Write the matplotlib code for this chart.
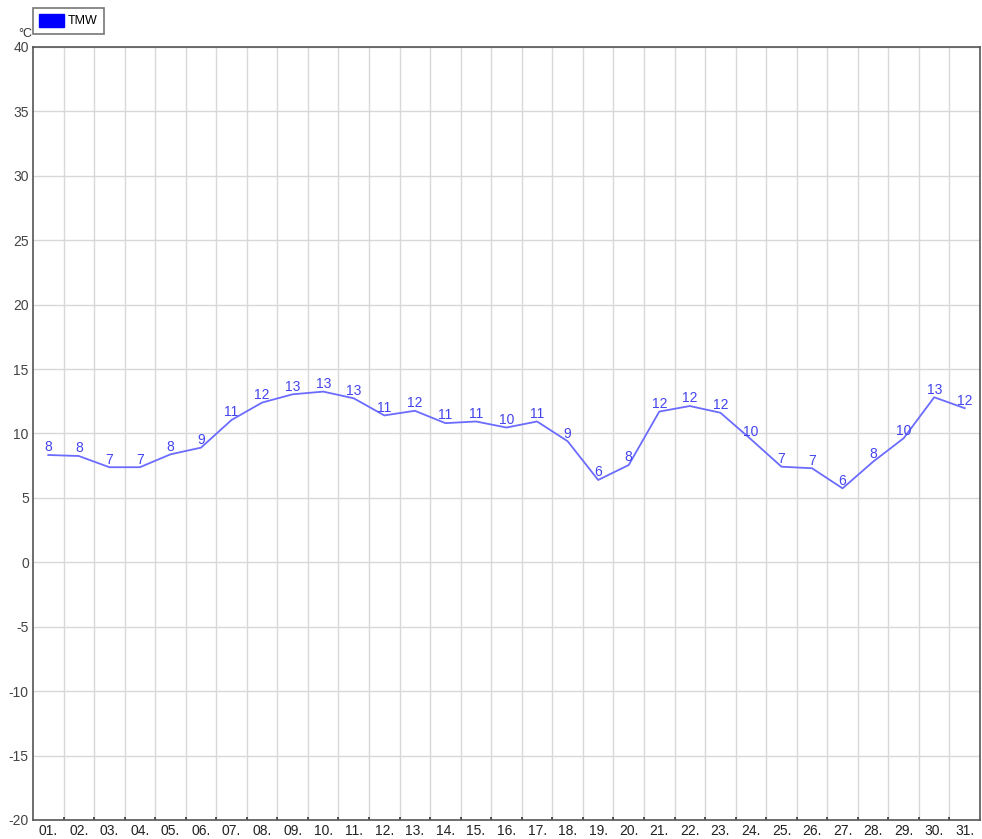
import numpy as np
import matplotlib
matplotlib.use("Agg")
import matplotlib.pyplot as plt
from matplotlib.patches import Patch

plt.rcParams["font.family"] = ["Liberation Sans", "DejaVu Sans"]

# daily mean temperature (TMW), °C
days = list(range(1, 32))
day_labels = ["%02d." % d for d in days]
tmw = [8.33, 8.25, 7.38, 7.38, 8.38, 8.9, 11.05, 12.4, 13.04, 13.25,
       12.73, 11.4, 11.76, 10.8, 10.93, 10.46, 10.93, 9.4, 6.39, 7.55,
       11.7, 12.13, 11.61, 9.55, 7.42, 7.3, 5.74, 7.81, 9.63, 12.81, 11.96]

LINE = "#6b6bff"
TXT = "#4444ee"

fig = plt.figure(figsize=(9.82, 8.39), dpi=100)
ax = fig.add_axes([0.0336, 0.0227, 0.9644, 0.9213])

ax.plot(days, tmw, color=LINE, lw=1.3, zorder=3)
for d, v in zip(days, tmw):
    ax.annotate(str(int(round(v))), (d, v), xytext=(0, 0.5), textcoords="offset points",
                ha="center", va="bottom", fontsize=10, color=TXT, zorder=4)

ax.set_xlim(0.5, 31.5)
ax.set_ylim(-20, 40)
ax.set_yticks(range(-20, 41, 5))
ax.set_yticklabels([str(t) for t in range(-20, 41, 5)])

# day labels centered, grid lines between days
ax.set_xticks(days)
ax.set_xticklabels(day_labels)
ax.set_xticks(np.arange(1.5, 31.5, 1), minor=True)
ax.tick_params(axis="x", which="major", length=0, pad=3, labelsize=10, colors="#222222")
ax.tick_params(axis="x", which="minor", length=2, direction="in", color="#333333", width=1.2)
ax.tick_params(axis="y", length=0, pad=3, labelsize=10, colors="#444444")
ax.grid(True, which="minor", axis="x", color="#d8d8d8", lw=1)
ax.grid(True, which="major", axis="y", color="#d8d8d8", lw=1)
ax.set_axisbelow(True)
for s in ax.spines.values():
    s.set_color("#555555")
    s.set_linewidth(1.2)

fig.text(0.0326, 0.960, "°C", fontsize=9, color="#333333", ha="right", va="center")

leg = fig.legend(handles=[Patch(facecolor="#0000ff", edgecolor="#0000ff", label="TMW")],
                 loc="upper left", bbox_to_anchor=(0.0336, 0.991), fontsize=9,
                 frameon=True, fancybox=False, handlelength=2.0, handleheight=1.2,
                 handletextpad=0.3, borderpad=0.5, borderaxespad=0)
leg.get_frame().set_edgecolor("#555555")
leg.get_frame().set_linewidth(1.2)

fig.savefig("out.png", dpi=100)
